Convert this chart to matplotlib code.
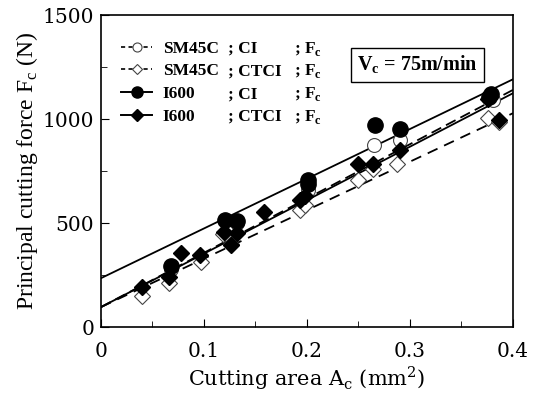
import numpy as np
import matplotlib.pyplot as plt
from matplotlib.lines import Line2D

# ------------------------------------------------------------------ #
# Data

# SM45C ; CI  (open circles)
sm_ci_x = [0.068, 0.132, 0.201, 0.265, 0.290, 0.381]
sm_ci_y = [277, 500, 661, 874, 898, 1090]

# SM45C ; CTCI  (open diamonds)
sm_ctci_x = [0.040, 0.066, 0.097, 0.118, 0.126, 0.193, 0.198, 0.250, 0.264, 0.287, 0.376, 0.386]
sm_ctci_y = [151, 213, 314, 445, 400, 562, 586, 706, 762, 786, 1007, 985]

# I600 ; CI  (filled circles)
i6_ci_x = [0.068, 0.120, 0.132, 0.201, 0.201, 0.266, 0.290, 0.379, 0.377]
i6_ci_y = [293, 515, 512, 709, 690, 970, 953, 1122, 1106]

# I600 ; CTCI  (filled diamonds)
i6_ctci_x = [0.040, 0.066, 0.078, 0.096, 0.119, 0.126, 0.132, 0.158, 0.193, 0.198, 0.250, 0.264, 0.290, 0.376, 0.386]
i6_ctci_y = [194, 242, 357, 346, 455, 394, 450, 554, 610, 629, 783, 783, 850, 1095, 994]

# regression lines: intercept, slope
fit_sm_ci = (96, 2610)
fit_sm_ctci = (96, 2330)
fit_i6_ci = (235, 2390)
fit_i6_ctci = (96, 2570)

# legend text columns
col1 = ['SM45C', 'SM45C', 'I600', 'I600']
col2 = ['; CI', '; CTCI', '; CI', '; CTCI']

# ------------------------------------------------------------------ #
# Plot

fig = plt.figure(figsize=(5.36, 3.95), dpi=100)
ax = fig.add_axes([0.1884, 0.172, 0.7686, 0.790])

xl = np.array([0.0, 0.4])

def fit_line(fit, ls):
    ax.plot(xl, fit[0] + fit[1] * xl, color='black', lw=1.3, ls=ls, zorder=2)

fit_line(fit_i6_ci, '-')
fit_line(fit_i6_ctci, '-')
fit_line(fit_sm_ci, (0, (6, 3)))
fit_line(fit_sm_ctci, (0, (6, 4)))

ax.plot(sm_ci_x, sm_ci_y, 'o', ms=10, mfc='white', mec='#444444', mew=0.8, ls='none', zorder=3)
ax.plot(sm_ctci_x, sm_ctci_y, 'D', ms=8, mfc='white', mec='#444444', mew=0.8, ls='none', zorder=3)
ax.plot(i6_ci_x, i6_ci_y, 'o', ms=11, color='black', ls='none', zorder=4)
ax.plot(i6_ctci_x, i6_ctci_y, 'D', ms=8, color='black', ls='none', zorder=4)

ax.set_xlim(0, 0.4)
ax.set_ylim(0, 1500)
ax.set_xticks([0, 0.1, 0.2, 0.3, 0.4])
ax.set_xticks([0.05, 0.15, 0.25, 0.35], minor=True)
ax.set_yticks([0, 500, 1000, 1500])
ax.set_yticks([250, 750, 1250], minor=True)
ax.set_xticklabels(['0', '0.1', '0.2', '0.3', '0.4'], family='DejaVu Serif', fontsize=14.5)
ax.set_yticklabels(['0', '500', '1000', '1500'], family='DejaVu Serif', fontsize=14.5)
ax.tick_params(which='both', direction='in', top=False, right=False)
ax.tick_params(which='major', length=6, pad=5)
ax.tick_params(which='minor', length=4)
ax.tick_params(axis='x', which='major', pad=11)
for s in ax.spines.values():
    s.set_linewidth(1.2)

ax.set_xlabel('Cutting area A$_\\mathregular{c}$ (mm$^\\mathregular{2}$)',
              family='DejaVu Serif', fontsize=15, labelpad=2)
ax.set_ylabel('Principal cutting force F$_\\mathregular{c}$ (N)',
              family='Liberation Serif', fontsize=17, labelpad=2)

# legend: handle + first column, other columns lined up on the same rows
handles = [
    Line2D([], [], color='black', ls=(0, (2.5, 2)), lw=1.2, marker='o', ms=6.5, mfc='white', mec='#444444', mew=0.8),
    Line2D([], [], color='black', ls=(0, (2.5, 2)), lw=1.2, marker='D', ms=5.5, mfc='white', mec='#444444', mew=0.8),
    Line2D([], [], color='black', ls='-', lw=1.4, marker='o', ms=8),
    Line2D([], [], color='black', ls='-', lw=1.4, marker='D', ms=6.5),
]
leg = ax.legend(handles, col1, loc='upper left', bbox_to_anchor=(0.036, 0.935),
                frameon=False, handlelength=1.8, handletextpad=0.6, labelspacing=0.38,
                borderaxespad=0.0, borderpad=0.3,
                prop={'family': 'Liberation Serif', 'weight': 'bold', 'size': 12.5})

fig.canvas.draw()
inv = ax.transAxes.inverted()
bold = dict(family='Liberation Serif', weight='bold', fontsize=12.5, va='baseline', transform=ax.transAxes)
for t, c2 in zip(leg.get_texts(), col2):
    x0, y0 = inv.transform(t.get_transform().transform(t.get_position()))
    ax.text(0.308, y0, c2, **bold)
    ax.text(0.468, y0, '; F$_\\mathregular{c}$', **bold)

ax.text(0.621, 0.84, 'V$_\\mathregular{c}$ = 75m/min', family='Liberation Serif', weight='bold',
        fontsize=14.5, va='center', transform=ax.transAxes,
        bbox=dict(boxstyle='square,pad=0.3', fc='white', ec='black', lw=1.0))

fig.savefig('out.png', dpi=100)
